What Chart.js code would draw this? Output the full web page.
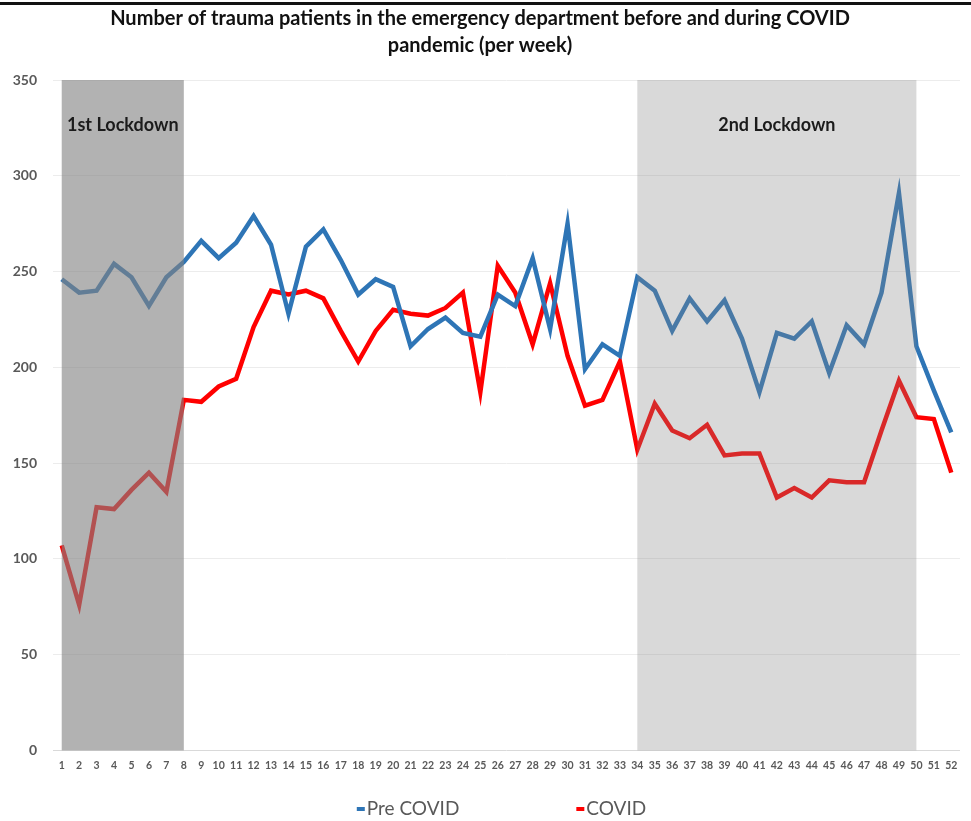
<!DOCTYPE html>
<html>
<head>
<meta charset="utf-8">
<script src="https://cdn.jsdelivr.net/npm/chart.js@4/dist/chart.umd.min.js"></script>
<style>
  html, body { margin: 0; padding: 0; background: #ffffff; }
  #wrap { position: relative; width: 971px; height: 821px; }
  #rule { position: absolute; left: 0; top: 2px; width: 971px; height: 3px; background: #111111; }
  canvas { display: block; }
</style>
</head>
<body>
<div id="wrap">
  <div id="rule"></div>
  <canvas id="chart" width="971" height="821"></canvas>
</div>
<script>
// Week numbers on the x axis
const weeks = ['1','2','3','4','5','6','7','8','9','10','11','12','13','14','15','16','17','18','19','20',
  '21','22','23','24','25','26','27','28','29','30','31','32','33','34','35','36','37','38','39','40',
  '41','42','43','44','45','46','47','48','49','50','51','52'];

// Weekly trauma patients, year before the pandemic
const preCovid = [246, 239, 240, 254, 247, 232, 247, 255, 266, 257, 265, 279, 264, 228, 263, 272, 256, 238, 246, 242,
  211, 220, 226, 218, 216, 238, 232, 257, 220, 275, 199, 212, 206, 247, 240, 219, 236, 224, 235, 215,
  187, 218, 215, 224, 197, 222, 212, 239, 291, 211, 188, 166];

// Weekly trauma patients during the pandemic
const covid = [107, 76, 127, 126, 136, 145, 135, 183, 182, 190, 194, 221, 240, 238, 240, 236, 219, 203, 219, 230,
  228, 227, 231, 239, 187, 253, 239, 212, 244, 206, 180, 183, 203, 157, 181, 167, 163, 170, 154, 155,
  155, 132, 137, 132, 141, 140, 140, 167, 193, 174, 173, 145];

// Lockdown periods (first and last week)
const lockdownNames = ['1st Lockdown', '2nd Lockdown'];
const lockdownFrom = ['1', '34'];
const lockdownTo = ['8', '50'];

const seriesNames = ['Pre COVID', 'COVID'];

const FONT = 'Lato, "Open Sans", "Liberation Sans", sans-serif';
const TEXT_GREY = '#595959';

// Shaded lockdown periods drawn over the lines
const lockdownPlugin = {
  id: 'lockdownBands',
  afterDatasetsDraw(chart) {
    const { ctx, scales: { x, y } } = chart;
    const shades = ['rgba(131,131,131,0.62)', 'rgba(131,131,131,0.31)'];
    const top = y.getPixelForValue(y.max);
    const bottom = y.getPixelForValue(y.min);
    ctx.save();
    lockdownNames.forEach((name, i) => {
      const x0 = x.getPixelForValue(weeks.indexOf(lockdownFrom[i]));
      const x1 = x.getPixelForValue(weeks.indexOf(lockdownTo[i]));
      ctx.fillStyle = shades[i];
      ctx.fillRect(x0, top, x1 - x0, bottom - top);
      ctx.fillStyle = '#1b1b1b';
      ctx.font = 'bold 18px ' + FONT;
      ctx.textAlign = 'center';
      ctx.textBaseline = 'middle';
      ctx.fillText(name, (x0 + x1) / 2, top + 45);
    });
    ctx.restore();
  }
};

// Legend row under the axis: short line marker followed by the series name
const bottomLegendPlugin = {
  id: 'bottomLegend',
  afterDraw(chart) {
    const { ctx, chartArea } = chart;
    const markerW = 8, textGap = 2, itemGap = 117;
    ctx.save();
    ctx.font = '19px ' + FONT;
    const items = chart.data.datasets.map(ds => ({
      text: ds.label, color: ds.borderColor, w: markerW + textGap + ctx.measureText(ds.label).width
    }));
    const total = items.reduce((s, it) => s + it.w, 0) + itemGap * (items.length - 1);
    let cx = (chartArea.left + chartArea.right) / 2 - total / 2 - 5;
    const cy = chart.height - 12;
    items.forEach(it => {
      ctx.strokeStyle = it.color;
      ctx.lineWidth = 4;
      ctx.beginPath();
      ctx.moveTo(cx, cy);
      ctx.lineTo(cx + markerW, cy);
      ctx.stroke();
      ctx.fillStyle = TEXT_GREY;
      ctx.textAlign = 'left';
      ctx.textBaseline = 'middle';
      ctx.fillText(it.text, cx + markerW + textGap, cy);
      cx += it.w + itemGap;
    });
    ctx.restore();
  }
};

new Chart(document.getElementById('chart'), {
  type: 'line',
  data: {
    labels: weeks,
    datasets: [
      {
        label: seriesNames[0],
        data: preCovid,
        borderColor: '#2e75b6',
        backgroundColor: '#2e75b6',
        borderWidth: 4.5,
        pointRadius: 0,
        tension: 0
      },
      {
        label: seriesNames[1],
        data: covid,
        borderColor: '#ff0000',
        backgroundColor: '#ff0000',
        borderWidth: 4.5,
        pointRadius: 0,
        tension: 0
      }
    ]
  },
  options: {
    responsive: false,
    animation: false,
    devicePixelRatio: 1,
    layout: { padding: { top: 0, right: 11, bottom: 40, left: 0 } },
    plugins: {
      legend: { display: false },
      tooltip: { enabled: false },
      title: {
        display: true,
        text: ['Number of trauma patients in the emergency department before and during COVID', 'pandemic (per week)'],
        color: '#111111',
        font: { family: FONT, size: 20, weight: 'bold', lineHeight: 1.35 },
        padding: { top: 5.5, bottom: 20.5 }
      }
    },
    scales: {
      x: {
        offset: true,
        grid: { display: false, drawTicks: false },
        border: { display: false },
        ticks: {
          autoSkip: false,
          maxRotation: 0,
          padding: 9,
          color: TEXT_GREY,
          font: { family: FONT, size: 10.5, weight: 'bold' }
        }
      },
      y: {
        min: 0,
        max: 350,
        afterFit(scale) { scale.width = 53; },
        grid: {
          drawTicks: false,
          color: ctx => (ctx.tick && ctx.tick.value === 0) ? '#d9d9d9' : '#ececec'
        },
        border: { display: false },
        ticks: {
          stepSize: 50,
          padding: 16,
          color: TEXT_GREY,
          font: { family: FONT, size: 14, weight: 'bold' }
        }
      }
    }
  },
  plugins: [lockdownPlugin, bottomLegendPlugin]
});
</script>
</body>
</html>
